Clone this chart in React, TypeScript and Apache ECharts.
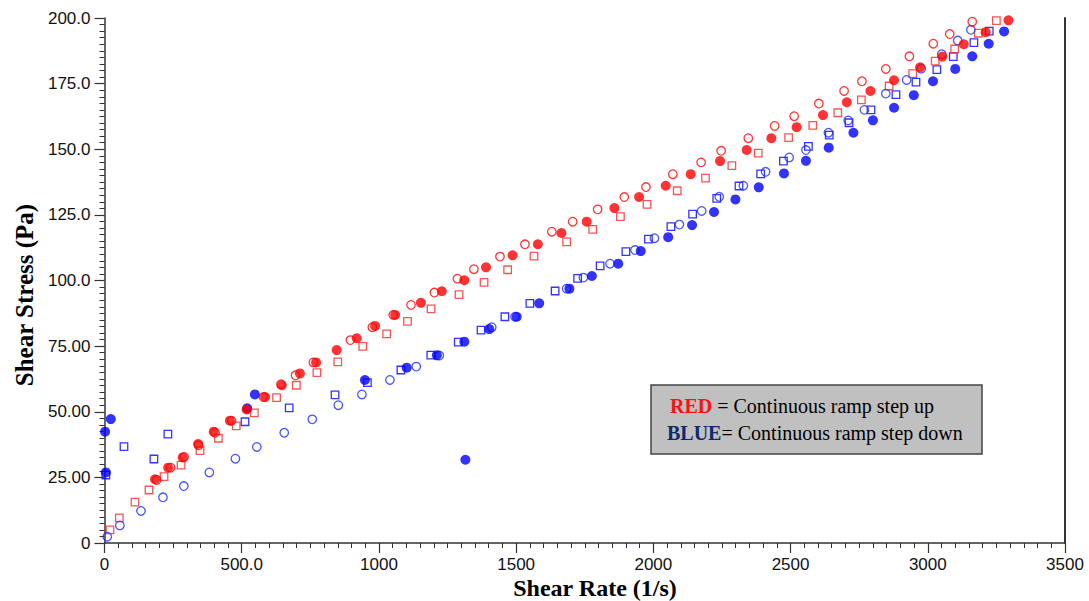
import React, { useEffect, useRef } from "react";
import * as echarts from "echarts";

// Shear rate (1/s), shear stress (Pa)
const redFilled: number[][] = [
  [184, 24.3], [232, 28.7], [285, 32.6], [341, 37.7], [398, 42.4], [457, 46.6], [518, 50.9], [585, 55.6],
  [646, 60.1], [712, 64.6], [771, 68.8], [846, 73.5], [919, 78.0], [986, 82.7], [1059, 86.9], [1153, 91.5],
  [1229, 95.9], [1311, 100.1], [1390, 105.0], [1487, 109.6], [1579, 113.8], [1665, 118.1], [1757, 122.4],
  [1858, 127.6], [1948, 131.8], [2045, 136.1], [2136, 140.5], [2243, 145.5], [2340, 149.7], [2430, 154.2],
  [2522, 158.4], [2618, 163.0], [2705, 167.9], [2791, 172.2], [2877, 176.3], [2972, 181.2], [3053, 185.3],
  [3131, 190.0], [3211, 194.6], [3294, 199.1],
];
const redOpen: number[][] = [
  [190, 24.0], [241, 28.7], [290, 32.8], [343, 37.2], [403, 42.0], [463, 46.6], [579, 55.6], [643, 60.5],
  [696, 63.9], [761, 68.8], [896, 77.3], [976, 82.2], [1052, 86.9], [1117, 90.7], [1202, 95.4], [1286, 100.7],
  [1346, 104.3], [1441, 109.1], [1532, 113.8], [1630, 118.6], [1706, 122.4], [1797, 127.1], [1894, 131.8],
  [1973, 135.6], [2071, 140.5], [2174, 145.0], [2247, 149.4], [2346, 154.2], [2442, 158.9], [2513, 162.6],
  [2603, 167.4], [2695, 172.2], [2760, 175.9], [2847, 180.6], [2933, 185.4], [3020, 190.2], [3080, 193.9],
  [3162, 198.6],
];
const redSquare: number[][] = [
  [20, 5.0], [54, 9.6], [111, 15.6], [162, 20.2], [217, 25.3], [279, 29.7], [348, 35.2], [415, 39.9],
  [480, 44.6], [546, 49.6], [627, 55.4], [699, 60.1], [774, 64.9], [850, 69.0], [941, 74.9], [1028, 79.7],
  [1104, 84.4], [1190, 89.2], [1292, 94.6], [1383, 99.3], [1469, 104.1], [1565, 109.3], [1684, 114.7],
  [1779, 119.5], [1880, 124.3], [1977, 129.0], [2087, 134.2], [2190, 139.0], [2286, 143.8], [2382, 148.5],
  [2493, 154.4], [2581, 159.1], [2672, 163.9], [2758, 168.8], [2859, 174.1], [2945, 178.8], [3027, 183.6],
  [3098, 188.2], [3184, 194.2], [3250, 199.0],
];
const blueFilled: number[][] = [
  [2, 42.4], [23, 47.2], [5, 26.9], [520, 51.3], [548, 56.6], [949, 62.1], [1101, 66.8], [1211, 71.5],
  [1311, 76.7], [1315, 31.7], [1402, 81.5], [1502, 86.2], [1584, 91.3], [1694, 96.9], [1776, 101.7],
  [1872, 106.4], [1954, 111.2], [2054, 116.5], [2141, 121.1], [2221, 126.1], [2299, 130.9], [2384, 135.5],
  [2476, 140.8], [2556, 145.6], [2639, 150.6], [2729, 156.3], [2800, 161.0], [2877, 165.8], [2949, 170.6],
  [3019, 175.9], [3100, 180.6], [3162, 185.4], [3222, 190.2], [3278, 194.9],
];
const blueOpen: number[][] = [
  [10, 2.4], [56, 6.7], [133, 12.2], [213, 17.4], [289, 21.7], [382, 26.9], [477, 32.1], [555, 36.6],
  [655, 42.0], [757, 47.1], [852, 52.5], [938, 56.6], [1040, 62.1], [1136, 67.2], [1220, 71.4], [1411, 82.2],
  [1496, 86.2], [1684, 96.9], [1745, 101.1], [1842, 106.4], [1933, 111.6], [2004, 116.1], [2095, 121.3],
  [2176, 126.5], [2240, 131.9], [2328, 136.1], [2409, 141.4], [2495, 146.9], [2556, 149.7], [2638, 156.3],
  [2710, 161.0], [2769, 165.0], [2847, 171.2], [2923, 176.4], [2976, 180.7], [3051, 186.2], [3109, 191.4],
  [3157, 195.5],
];
const blueSquare: number[][] = [
  [5, 25.9], [71, 36.7], [180, 32.0], [231, 41.5], [512, 46.2], [673, 51.5], [840, 56.4], [958, 61.1],
  [1080, 65.9], [1189, 71.6], [1289, 76.5], [1372, 81.1], [1459, 86.2], [1550, 91.3], [1642, 96.0],
  [1724, 100.8], [1806, 105.6], [1900, 111.0], [1982, 115.8], [2064, 120.5], [2143, 125.3], [2231, 131.3],
  [2312, 136.0], [2391, 140.6], [2474, 145.5], [2565, 151.1], [2641, 155.4], [2713, 160.1], [2793, 165.0],
  [2884, 170.8], [2957, 175.6], [3033, 180.3], [3093, 185.3], [3168, 190.6], [3224, 195.0],
];

const xTitle = "Shear Rate (1/s)";
const yTitle = "Shear Stress (Pa)";
const legendLine1 = ["RED", " = Continuous ramp step up"];
const legendLine2 = ["BLUE", "= Continuous ramp step down"];

const RED = "#ff0000";
const BLUE = "#0000ff";
const AXIS = "#333333";
const SANS = "'Liberation Sans', Arial, Helvetica, sans-serif";
const SERIF = "'Liberation Serif', 'Times New Roman', serif";

export default function App() {
  const ref = useRef<HTMLDivElement>(null);
  useEffect(() => {
    if (!ref.current) return;
    const chart = echarts.init(ref.current, undefined, { renderer: "svg" });
    const openStyle = (c: string) => ({ color: "rgba(255,255,255,0)", borderColor: c, borderWidth: 1.3 });
    chart.setOption({
      animation: false,
      backgroundColor: "#ffffff",
      grid: { left: 104.5, right: 24, top: 18, bottom: 58, containLabel: false },
      xAxis: {
        type: "value",
        min: 0,
        max: 3500,
        interval: 500,
        axisLine: { show: true, onZero: false, lineStyle: { color: AXIS, width: 1.5 } },
        axisTick: { show: true, length: 10, lineStyle: { color: AXIS, width: 1.2 } },
        minorTick: { show: true, splitNumber: 10, length: 5, lineStyle: { color: AXIS, width: 1 } },
        splitLine: { show: false },
        axisLabel: {
          margin: 13,
          fontSize: 17,
          lineHeight: 17,
          fontFamily: SANS,
          color: "#111",
          formatter: (v: number) => (v === 0 ? "0" : v < 1000 ? v.toFixed(1) : String(v)),
        },
      },
      yAxis: [
        {
          type: "value",
          min: 0,
          max: 200,
          interval: 25,
          axisLine: { show: true, onZero: false, lineStyle: { color: AXIS, width: 1.5 } },
          axisTick: { show: true, length: 10, lineStyle: { color: AXIS, width: 1.2 } },
          minorTick: { show: true, splitNumber: 10, length: 5, lineStyle: { color: AXIS, width: 1 } },
          splitLine: { show: false },
          axisLabel: {
            margin: 14,
            fontSize: 17,
            fontFamily: SANS,
            color: "#111",
            formatter: (v: number) => (v === 0 ? "0" : v >= 100 ? v.toFixed(1) : v.toFixed(2)),
          },
        },
        {
          type: "value",
          position: "right",
          min: 0,
          max: 200,
          interval: 25,
          axisLine: { show: true, onZero: false, lineStyle: { color: AXIS, width: 2 } },
          axisTick: { show: false },
          axisLabel: { show: false },
          splitLine: { show: false },
        },
      ],
      series: [
        { type: "scatter", data: blueSquare, symbol: "rect", symbolSize: 7.5, itemStyle: openStyle(BLUE) },
        { type: "scatter", data: redSquare, symbol: "rect", symbolSize: 7.5, itemStyle: openStyle("#f52a2a") },
        { type: "scatter", data: blueOpen, symbol: "circle", symbolSize: 8.5, itemStyle: openStyle("#1a2aff") },
        { type: "scatter", data: redOpen, symbol: "circle", symbolSize: 8.5, itemStyle: openStyle(RED) },
        { type: "scatter", data: blueFilled, symbol: "circle", symbolSize: 10, itemStyle: { color: BLUE } },
        { type: "scatter", data: redFilled, symbol: "circle", symbolSize: 10, itemStyle: { color: RED } },
      ],
      graphic: [
        {
          type: "text",
          x: 595,
          y: 588,
          style: {
            text: xTitle,
            font: `bold 24px ${SERIF}`,
            fill: "#000",
            textAlign: "center",
            textVerticalAlign: "middle",
          },
        },
        {
          type: "text",
          x: 24,
          y: 295,
          rotation: Math.PI / 2,
          style: {
            text: yTitle,
            font: `bold 25px ${SERIF}`,
            fill: "#000",
            textAlign: "center",
            textVerticalAlign: "middle",
          },
        },
        {
          type: "rect",
          shape: { x: 651, y: 385, width: 331, height: 69 },
          style: { fill: "#c0c0c0", stroke: "#444", lineWidth: 1.5 },
        },
        {
          type: "text",
          x: 670,
          y: 406,
          style: {
            text: `{a|${legendLine1[0]}}{b|${legendLine1[1]}}`,
            textVerticalAlign: "middle",
            rich: {
              a: { fontFamily: SERIF, fontSize: 20, fontWeight: "bold", fill: "#ff1010" },
              b: { fontFamily: SERIF, fontSize: 20, fill: "#000" },
            },
          },
        },
        {
          type: "text",
          x: 667,
          y: 433,
          style: {
            text: `{a|${legendLine2[0]}}{b|${legendLine2[1]}}`,
            textVerticalAlign: "middle",
            rich: {
              a: { fontFamily: SERIF, fontSize: 20, fontWeight: "bold", fill: "#0d2a6e" },
              b: { fontFamily: SERIF, fontSize: 20, fill: "#000" },
            },
          },
        },
      ],
    });
    return () => chart.dispose();
  }, []);
  return (
    <div
      ref={ref}
      style={{ position: "fixed", left: 0, top: 0, width: 1089, height: 601, background: "#fff" }}
    />
  );
}
